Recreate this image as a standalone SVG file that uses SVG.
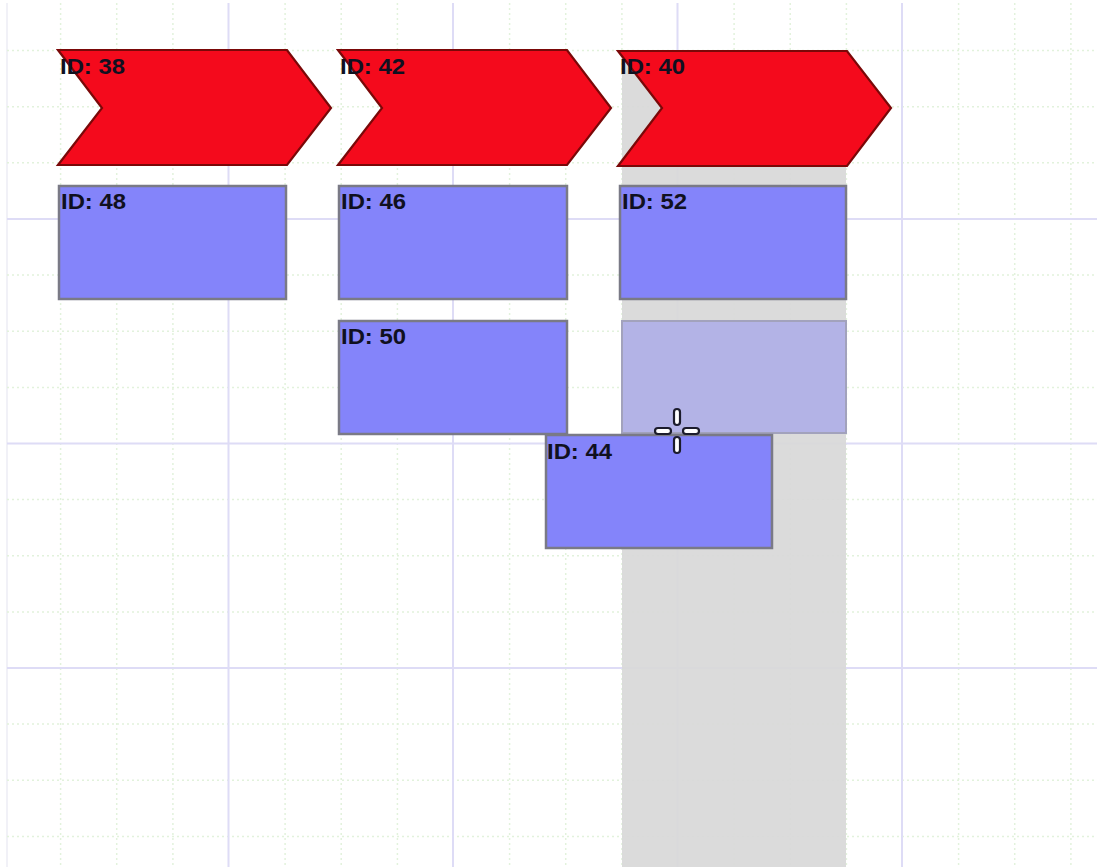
<svg xmlns="http://www.w3.org/2000/svg" width="1097" height="867" viewBox="0 0 1097 867">
<style>
.maj{stroke:#dedcf6;stroke-width:2;fill:none}
.min{stroke:#e2f2dc;stroke-width:1.5;stroke-dasharray:2 3;fill:none}
.chev{fill:#f40a1c;stroke:#7a0808;stroke-width:2.2}
.box{fill:#8484fa;stroke:#7a7a86;stroke-width:2.5}
.ghost{fill:#b3b3e6;stroke:#a2a2bc;stroke-width:2}
.lbl{font-family:"Liberation Sans",Arial,sans-serif;font-weight:bold;font-size:22px;fill:#101020}
.cur{fill:#ffffff;stroke:#1c1c2c;stroke-width:2.2}
</style>
<rect x="0" y="0" width="1097" height="867" fill="#ffffff"/>
<g id="grid">
<line x1="7" y1="3" x2="7" y2="867" stroke="#ececf4" stroke-width="1.5"/>
<g class="min">
<line x1="60.6" y1="3" x2="60.6" y2="867"/><line x1="116.7" y1="3" x2="116.7" y2="867"/><line x1="172.9" y1="3" x2="172.9" y2="867"/>
<line x1="285.1" y1="3" x2="285.1" y2="867"/><line x1="341.2" y1="3" x2="341.2" y2="867"/><line x1="397.4" y1="3" x2="397.4" y2="867"/>
<line x1="509.6" y1="3" x2="509.6" y2="867"/><line x1="565.7" y1="3" x2="565.7" y2="867"/><line x1="621.9" y1="3" x2="621.9" y2="867"/>
<line x1="734.1" y1="3" x2="734.1" y2="867"/><line x1="790.2" y1="3" x2="790.2" y2="867"/><line x1="846.4" y1="3" x2="846.4" y2="867"/>
<line x1="958.6" y1="3" x2="958.6" y2="867"/><line x1="1014.7" y1="3" x2="1014.7" y2="867"/><line x1="1070.9" y1="3" x2="1070.9" y2="867"/>
<line x1="7" y1="50.6" x2="1097" y2="50.6"/><line x1="7" y1="106.7" x2="1097" y2="106.7"/><line x1="7" y1="162.8" x2="1097" y2="162.8"/>
<line x1="7" y1="275.1" x2="1097" y2="275.1"/><line x1="7" y1="331.2" x2="1097" y2="331.2"/><line x1="7" y1="387.4" x2="1097" y2="387.4"/>
<line x1="7" y1="499.6" x2="1097" y2="499.6"/><line x1="7" y1="555.7" x2="1097" y2="555.7"/><line x1="7" y1="611.9" x2="1097" y2="611.9"/>
<line x1="7" y1="724.1" x2="1097" y2="724.1"/><line x1="7" y1="780.2" x2="1097" y2="780.2"/><line x1="7" y1="836.4" x2="1097" y2="836.4"/>
</g>
<g class="maj">
<line x1="228.5" y1="3" x2="228.5" y2="867"/><line x1="453" y1="3" x2="453" y2="867"/><line x1="677.5" y1="3" x2="677.5" y2="867"/><line x1="902" y1="3" x2="902" y2="867"/>
<line x1="7" y1="219" x2="1097" y2="219"/><line x1="7" y1="443.5" x2="1097" y2="443.5"/><line x1="7" y1="668" x2="1097" y2="668"/>
</g>
</g>
<rect id="column-highlight" x="622" y="51" width="224" height="816" fill="#d8d8d8" opacity="0.93"/>
<g id="connectors"></g>
<g id="n38"><path class="chev" d="M58,50 L287,50 L331,108 L287,165 L58,165 L102,108 Z"/><text class="lbl" x="60" y="74" textLength="65" lengthAdjust="spacingAndGlyphs">ID: 38</text></g>
<g id="n42"><path class="chev" d="M338,50 L567,50 L611,108 L567,165 L338,165 L382,108 Z"/><text class="lbl" x="340" y="74" textLength="65" lengthAdjust="spacingAndGlyphs">ID: 42</text></g>
<g id="n40"><path class="chev" d="M618,51 L847,51 L891,108 L847,166 L618,166 L662,108 Z"/><text class="lbl" x="620" y="74" textLength="65" lengthAdjust="spacingAndGlyphs">ID: 40</text></g>
<g id="n48"><rect class="box" x="59" y="186" width="227" height="113"/><text class="lbl" x="61" y="209" textLength="65" lengthAdjust="spacingAndGlyphs">ID: 48</text></g>
<g id="n46"><rect class="box" x="339" y="186" width="228" height="113"/><text class="lbl" x="341" y="209" textLength="65" lengthAdjust="spacingAndGlyphs">ID: 46</text></g>
<g id="n52"><rect class="box" x="620" y="186" width="226" height="113"/><text class="lbl" x="622" y="209" textLength="65" lengthAdjust="spacingAndGlyphs">ID: 52</text></g>
<g id="n50"><rect class="box" x="339" y="321" width="228" height="113"/><text class="lbl" x="341" y="344" textLength="65" lengthAdjust="spacingAndGlyphs">ID: 50</text></g>
<g id="ghost"><rect class="ghost" x="622" y="321" width="224" height="112"/></g>
<g id="n44"><rect class="box" x="546" y="435" width="226" height="113"/><text class="lbl" x="547" y="459" textLength="65" lengthAdjust="spacingAndGlyphs">ID: 44</text></g>
<g id="cursor">
<rect class="cur" x="674" y="409" width="6" height="16" rx="3"/>
<rect class="cur" x="674" y="437" width="6" height="16" rx="3"/>
<rect class="cur" x="655" y="428" width="16" height="6" rx="3"/>
<rect class="cur" x="683" y="428" width="16" height="6" rx="3"/>
</g>
</svg>
